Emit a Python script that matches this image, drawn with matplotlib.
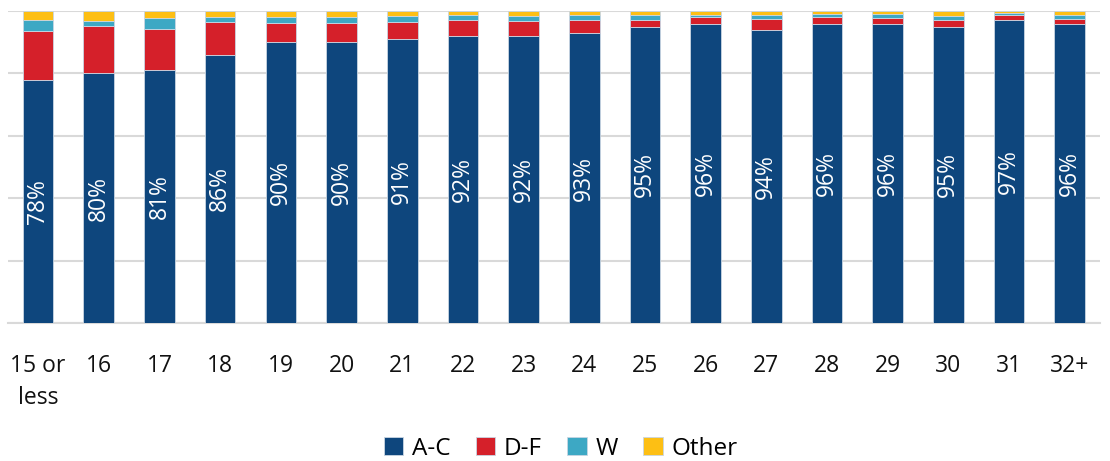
import numpy as np
import matplotlib
matplotlib.use('Agg')
import matplotlib.pyplot as plt

plt.rcParams['font.family'] = ['Open Sans', 'DejaVu Sans']

# grade shares (%) by age group
ages = ['15 or\nless', '16', '17', '18', '19', '20', '21', '22', '23', '24',
        '25', '26', '27', '28', '29', '30', '31', '32+']
ac = [78, 80, 81, 86, 90, 90, 91, 92, 92, 93, 95, 96, 94, 96, 96, 95, 97, 96]
df = [15.5, 15.3, 13.3, 10.5, 6.2, 6.2, 5.6, 5.2, 4.8, 4.1, 2.2, 2.1, 3.3, 2.0, 1.7, 2.2, 1.7, 1.6]
w = [3.5, 1.6, 3.4, 1.6, 1.9, 1.8, 1.9, 1.5, 1.6, 1.6, 1.6, 0.6, 1.5, 1.2, 1.3, 1.2, 0.7, 1.0]
other = [3.0, 3.1, 2.3, 1.9, 1.9, 2.0, 1.5, 1.3, 1.6, 1.3, 1.2, 1.3, 1.2, 0.8, 1.0, 1.6, 0.6, 1.4]

series = [('A-C', ac, '#0e467d'), ('D-F', df, '#d5202a'),
          ('W', w, '#3da8c4'), ('Other', other, '#fdbf14')]

fig = plt.figure(figsize=(11.1, 4.61), dpi=100)
ax = fig.add_axes([0.007, 0.299, 0.984, 0.677])

x = np.arange(len(ages))
bottom = np.zeros(len(ages))
for name, vals, col in series:
    vals = np.array(vals)
    ax.bar(x, vals, 0.505, bottom=bottom, color=col, label=name,
           edgecolor='#c9d6e3', linewidth=0.6, zorder=3)
    bottom += vals

for xi, v in zip(x, ac):
    ax.text(xi, v / 2, '%d%%' % v, rotation=90, ha='center', va='center',
            color='white', fontsize=16.5, zorder=4)

ax.set_xlim(-0.5, len(ages) - 0.5)
ax.set_ylim(0, 100)
ax.set_yticks(np.arange(0, 101, 20))
ax.yaxis.grid(True, color='#d9d9d9', linewidth=1.5, zorder=0)
ax.set_yticklabels([])
ax.tick_params(axis='y', length=0)
ax.tick_params(axis='x', length=0, pad=22, labelsize=16.5, labelcolor='#111111')
ax.set_xticks(x)
ax.set_xticklabels(ages, linespacing=1.45)
for s in ['top', 'right', 'left']:
    ax.spines[s].set_visible(False)
ax.spines['bottom'].set_color('#d9d9d9')
ax.spines['bottom'].set_linewidth(1.5)

fig.legend(loc='center', bbox_to_anchor=(0.505, 0.027), ncol=4, frameon=False,
           fontsize=17.5, handlelength=0.8, handleheight=0.8,
           handletextpad=0.35, columnspacing=1.05)

fig.savefig('out.png', dpi=100)
